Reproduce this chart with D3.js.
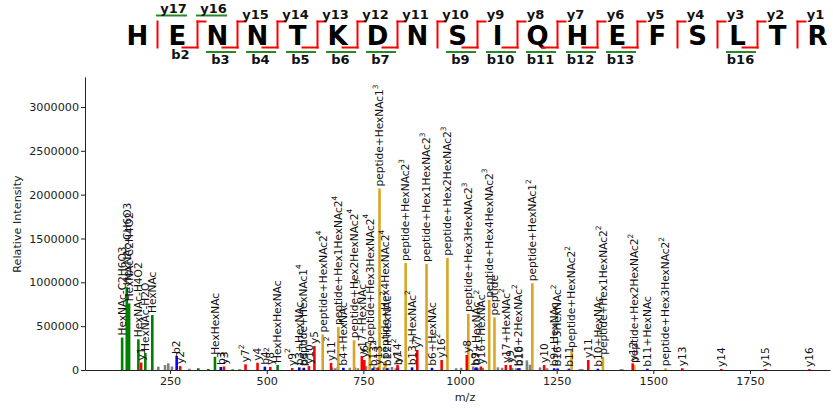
<!DOCTYPE html>
<html>
<head>
<meta charset="utf-8">
<script src="https://cdn.jsdelivr.net/npm/d3@7"></script>
<style>
  body { margin: 0; background: #fff; }
  svg { display: block; font-family: "DejaVu Sans", sans-serif; }
</style>
</head>
<body>
<svg id="chart" width="833" height="408"></svg>
<script>
// Peptide sequence and observed fragment coverage
const sequence = "HENNTKDNSIQHEFSLTR".split("");
const yObserved = [17, 16, 15, 14, 13, 12, 11, 10, 9, 8, 7, 6, 5, 4, 3, 2, 1];
const yGlyco = [17, 16];
const bObserved = [2, 3, 4, 5, 6, 7, 9, 10, 11, 12, 13, 16];
const bGlyco = [3, 4, 5, 6, 7, 9, 10, 11, 12, 13, 16];

// Peaks: [m/z, intensity, label]; "^n" marks a charge state
const oxoniumIons = [
  [126.055, 370000, "HexNAc-C2H6O3"],
  [138.055, 945000, "HexNAc-CH6O3"],
  [144.065, 760000, "HexNAc-C2H4O2"],
  [168.066, 350000, "HexNAc-H4O2"],
  [186.076, 195000, "HexNAc-H2O"],
  [204.087, 627000, "HexNAc"],
  [366.140, 150000, "HexHexNAc"],
  [528.193, 57000, "HexHexHexNAc"]
];
const minorOxonium = [[323.1, 20000], [349.1, 12000], [412.0, 8000], [430.0, 8000]];

const yIons = [
  [175.119, 85000, "y1"],
  [276.167, 45000, "y2"],
  [389.251, 40000, "y3"],
  [445.230, 65000, "y7^2"],
  [476.283, 83000, "y4"],
  [509.260, 35000, "y8^2"],
  [565.800, 22000, "y9^2"],
  [609.320, 45000, "y10^2"],
  [623.351, 273000, "y5"],
  [666.340, 80000, "y11^2"],
  [746.020, 160000, "y17+HexNAc^3"],
  [752.394, 114000, "y6"],
  [787.900, 30000, "y13^2"],
  [838.420, 57000, "y14^2"],
  [889.453, 228000, "y7"],
  [952.470, 114000, "y16^2"],
  [1017.512, 171000, "y8"],
  [1054.000, 40000, "y16+HexNAc^2"],
  [1118.530, 57000, "y17+HexNAc^2"],
  [1130.596, 57000, "y9"],
  [1217.628, 57000, "y10"],
  [1331.671, 114000, "y11"],
  [1446.698, 76000, "y12"],
  [1574.793, 20000, "y13"],
  [1675.841, 12000, "y14"],
  [1789.884, 10000, "y15"],
  [1903.927, 10000, "y16"]
];

const bIons = [
  [267.109, 160000, "b2"],
  [381.152, 35000, "b3"],
  [495.195, 38000, "b4"],
  [584.231, 30000, "b3+HexNAc"],
  [596.243, 25000, "b5"],
  [698.274, 25000, "b4+HexNAc"],
  [774.350, 20000, "b13^2"],
  [811.360, 20000, "b12+HexNAc^2"],
  [839.365, 30000, "b7"],
  [875.890, 30000, "b13+HexNAc^2"],
  [927.417, 25000, "b6+HexNAc"],
  [1040.440, 25000, "b9"],
  [1042.444, 30000, "b7+HexNAc"],
  [1151.020, 20000, "b16+2HexNAc^2"],
  [1153.524, 20000, "b10"],
  [1243.520, 20000, "b9+HexNAc"],
  [1252.560, 18000, "b16+3HexNAc^2"],
  [1281.583, 15000, "b11"],
  [1356.603, 15000, "b10+HexNAc"],
  [1484.662, 15000, "b11+HexNAc"]
];

const glycopeptideIons = [
  [594.03, 20000, "peptide+HexNAc1^4"],
  [644.80, 405000, "peptide+HexNAc2^4"],
  [685.31, 490000, "peptide+Hex1HexNAc2^4"],
  [725.82, 340000, "peptide+Hex2HexNAc2^4"],
  [766.33, 285000, "peptide+Hex3HexNAc2^4"],
  [791.71, 2070000, "peptide+HexNAc1^3"],
  [806.84, 100000, "peptide+Hex4HexNAc2^4"],
  [859.40, 1220000, "peptide+HexNAc2^3"],
  [913.42, 1210000, "peptide+Hex1HexNAc2^3"],
  [967.44, 1280000, "peptide+Hex2HexNAc2^3"],
  [1021.45, 640000, "peptide+Hex3HexNAc2^3"],
  [1075.47, 800000, "peptide+Hex4HexNAc2^3"],
  [1089.15, 600000, "peptide"],
  [1187.06, 990000, "peptide+HexNAc1^2"],
  [1288.60, 228000, "peptide+HexNAc2^2"],
  [1369.62, 150000, "peptide+Hex1HexNAc2^2"],
  [1450.65, 57000, "peptide+Hex2HexNAc2^2"],
  [1531.68, 20000, "peptide+Hex3HexNAc2^2"]
];

const unassignedPeaks = [
  [219.6, 38000], [237.0, 57000], [245.5, 76000], [255.0, 40000], [300.0, 15000],
  [669, 30000], [677, 20000], [684, 35000], [715, 25000], [728, 30000], [736, 20000],
  [757, 45000], [767, 30000], [778, 40000], [785, 25000], [803, 30000], [814, 25000],
  [824, 35000], [834, 20000], [990, 20000], [1003, 25000], [1034, 40000], [1047, 20000],
  [1059, 25000], [1098, 30000], [1109, 25000], [1135, 25000], [1145, 20000],
  [1173, 110000], [1181, 60000], [1207, 30000], [1225, 20000], [1310, 12000],
  [1316, 12000], [1416, 10000], [1420, 10000]
];

const yTicks = [0, 500000, 1000000, 1500000, 2000000, 2500000, 3000000];
const xTicks = [250, 500, 750, 1000, 1250, 1500, 1750];

const colors = { oxonium: "#008000", y: "#ff0000", b: "#0000ff", glyco: "#daa520", none: "#808080" };

const svg = d3.select("#chart");
const x = d3.scaleLinear().domain([30, 1957]).range([85, 830]);
const y = d3.scaleLinear().domain([0, 3342000]).range([370, 77]);

// Unassigned peaks first, annotated peaks on top
const peaks = [];
unassignedPeaks.forEach(d => peaks.push({ mz: d[0], v: d[1], c: colors.none }));
minorOxonium.forEach(d => peaks.push({ mz: d[0], v: d[1], c: colors.oxonium }));
oxoniumIons.forEach(d => peaks.push({ mz: d[0], v: d[1], c: colors.oxonium, label: d[2] }));
glycopeptideIons.forEach(d => peaks.push({ mz: d[0], v: d[1], c: colors.glyco, label: d[2] }));
bIons.forEach(d => peaks.push({ mz: d[0], v: d[1], c: colors.b, label: d[2] }));
yIons.forEach(d => peaks.push({ mz: d[0], v: d[1], c: colors.y, label: d[2] }));

svg.append("g").selectAll("line").data(peaks).join("line")
  .attr("x1", d => x(d.mz)).attr("x2", d => x(d.mz))
  .attr("y1", y(0)).attr("y2", d => y(d.v))
  .attr("stroke", d => d.c).attr("stroke-width", 2.6);

// Axes
const yAxis = svg.append("g").attr("transform", "translate(85,0)")
  .call(d3.axisLeft(y).tickValues(yTicks).tickFormat(d3.format("d")).tickSize(4).tickSizeOuter(0));
const xAxis = svg.append("g").attr("transform", "translate(0,370)")
  .call(d3.axisBottom(x).tickValues(xTicks).tickFormat(d3.format("d")).tickSize(4).tickSizeOuter(0));
[yAxis, xAxis].forEach(g => {
  g.selectAll("text").attr("font-size", 11.2).attr("fill", "#222").attr("font-family", "DejaVu Sans");
  g.select(".domain").attr("stroke", "#222");
  g.selectAll(".tick line").attr("stroke", "#222");
});
yAxis.selectAll("text").attr("x", -6);
xAxis.selectAll("text").attr("y", 7);

svg.append("text").attr("transform", "translate(21,224) rotate(-90)")
  .attr("text-anchor", "middle").attr("font-size", 11.2).attr("fill", "#222")
  .text("Relative Intensity");
svg.append("text").attr("x", 465).attr("y", 401)
  .attr("text-anchor", "middle").attr("font-size", 11.2).attr("fill", "#222")
  .text("m/z");

// Peak annotations, rotated, with charge as superscript
const labelled = peaks.filter(d => d.label);
const lab = svg.append("g").selectAll("text").data(labelled).join("text")
  .attr("transform", d => `translate(${x(d.mz)},${y(d.v) - 2}) rotate(-90)`)
  .attr("dy", "0.36em")
  .attr("font-size", 10.6).attr("fill", "#111");
lab.each(function (d) {
  const [base, charge] = d.label.split("^");
  const t = d3.select(this);
  t.append("tspan").text(base);
  if (charge) t.append("tspan").attr("font-size", 7.4).attr("dy", "-0.75em").text(charge);
});

// Sequence coverage header
const pos = d3.scalePoint().domain(d3.range(sequence.length)).range([137.5, 817.5]);
const hdr = svg.append("g");
hdr.selectAll("text.res").data(sequence).join("text").attr("class", "res")
  .attr("x", (d, i) => pos(i)).attr("y", 45).attr("text-anchor", "middle")
  .attr("font-size", 26).attr("font-weight", "bold").attr("fill", "#000").text(d => d);

const step = pos(1) - pos(0);
const boundaries = d3.range(1, sequence.length).map(k => ({
  k, bx: pos(k - 1) + step / 2,
  yIon: sequence.length - k, hasY: yObserved.includes(sequence.length - k),
  hasB: bObserved.includes(k)
}));
const red = "#ff0000", green = "#228b22";
boundaries.forEach(b => {
  hdr.append("line").attr("x1", b.bx).attr("x2", b.bx).attr("y1", 20.5).attr("y2", 48.5)
    .attr("stroke", red).attr("stroke-width", 2);
  if (b.hasY && b.k > 1) hdr.append("line").attr("x1", b.bx - 1).attr("x2", b.bx + 9).attr("y1", 21.5).attr("y2", 21.5)
    .attr("stroke", red).attr("stroke-width", 2);
  if (b.hasB) hdr.append("line").attr("x1", b.bx - 16).attr("x2", b.bx + 1).attr("y1", 47.5).attr("y2", 47.5)
    .attr("stroke", red).attr("stroke-width", 2);
  if (b.hasY) {
    const g = yGlyco.includes(b.yIon);
    if (g) hdr.append("line").attr("x1", b.bx - 1.5).attr("x2", b.bx + 29.5).attr("y1", 15.5).attr("y2", 15.5)
      .attr("stroke", green).attr("stroke-width", 2);
    hdr.append("text").attr("x", pos(b.k) - (g ? 4 : 2)).attr("y", g ? 13 : 18.5)
      .attr("text-anchor", "middle").attr("font-size", 13).attr("font-weight", "bold").attr("fill", "#111")
      .text("y" + b.yIon);
  }
  if (b.hasB) {
    const g = bGlyco.includes(b.k);
    if (g) hdr.append("line").attr("x1", b.bx - 31.5).attr("x2", b.bx - 1.5).attr("y1", 52).attr("y2", 52)
      .attr("stroke", green).attr("stroke-width", 2);
    hdr.append("text").attr("x", pos(b.k - 1) + 3).attr("y", g ? 64 : 59)
      .attr("text-anchor", "middle").attr("font-size", 13).attr("font-weight", "bold").attr("fill", "#111")
      .text("b" + b.k);
  }
});
</script>
</body>
</html>
